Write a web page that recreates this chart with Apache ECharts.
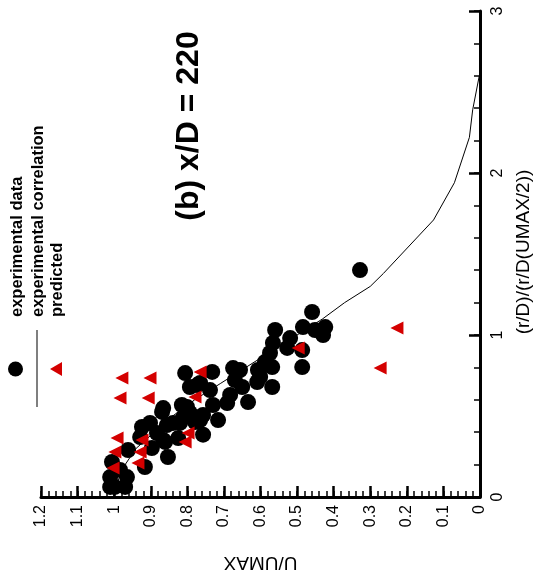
<!DOCTYPE html>
<html>
<head>
<meta charset="utf-8">
<script src="https://cdn.jsdelivr.net/npm/echarts@6/dist/echarts.min.js"></script>
<style>html,body{margin:0;padding:0;background:#fff;}#c{width:535px;height:582px;}</style>
</head>
<body>
<div id="c"></div>
<script>
// experimental data (circles): U/UMAX and (r/D)/(r/D(UMAX/2))
const expU = [1.011,0.998,0.970,1.011,0.965,1.006,0.984,0.962,0.924,0.902,0.869,0.856,0.883,0.861,0.897,0.853,0.916,
  0.815,0.793,0.765,0.757,0.825,0.793,0.765,0.820,0.806,0.773,0.866,0.732,0.738,0.675,0.656,0.670,0.650,0.609,0.601,
  0.588,0.568,0.574,0.566,0.527,0.486,0.568,0.634,0.683,0.691,0.730,0.716,0.757,0.801,0.812,0.779,0.459,0.484,0.451,
  0.423,0.429,0.560,0.519,0.486,0.588,0.607,0.328,0.929,0.839,0.866];
const expR = [0.062,0.062,0.062,0.123,0.123,0.216,0.167,0.290,0.432,0.457,0.525,0.444,0.395,0.340,0.302,0.247,0.185,
  0.568,0.519,0.475,0.385,0.364,0.679,0.704,0.457,0.765,0.691,0.549,0.772,0.660,0.796,0.784,0.722,0.679,0.710,0.741,
  0.815,0.802,0.889,0.951,0.920,0.802,0.679,0.586,0.630,0.580,0.568,0.475,0.506,0.556,0.488,0.463,1.142,1.049,1.031,
  1.049,1.000,1.031,0.981,0.907,0.833,0.784,1.401,0.370,0.457,0.352];
// experimental correlation (line)
const corrU = [1.0,0.99,0.97,0.94,0.89,0.84,0.78,0.71,0.64,0.57,0.50,0.43,0.37,0.30,0.264,0.127,0.07,0.029,0.02,0.002];
const corrR = [0.0,0.1,0.2,0.3,0.4,0.5,0.6,0.7,0.8,0.9,1.0,1.1,1.2,1.3,1.38,1.71,1.94,2.22,2.39,2.60];
// predicted (triangles)
const predU = [0.979,0.902,0.984,0.907,0.765,0.779,0.992,0.924,0.998,0.929,1.003,0.935,0.798,0.806,0.497,0.227,0.273];
const predR = [0.735,0.735,0.611,0.611,0.772,0.617,0.364,0.352,0.278,0.278,0.179,0.210,0.395,0.340,0.920,1.043,0.796];

const titleText = '(b) x/D = 220';
const legendNames = ['experimental data','experimental correlation','predicted'];
const xName = 'U/UMAX';
const yName = '(r/D)/(r/D(UMAX/2))';

const zip = (a, b) => a.map((v, i) => [v, b[i]]);
const FONT = 'Liberation Sans, Arial, sans-serif';
const RED = '#d40000';

const chart = echarts.init(document.getElementById('c'), null, {renderer: 'canvas'});
const majorAxis = () => ({
  type: 'value',
  splitLine: {show: false},
  axisLine: {show: true, onZero: false, lineStyle: {color: '#000', width: 3}},
  axisTick: {show: true, inside: true, length: 11, lineStyle: {color: '#000', width: 2.5}}
});
const minorAxis = () => ({
  type: 'value',
  splitLine: {show: false},
  axisLine: {show: false, onZero: false},
  axisLabel: {show: false},
  axisTick: {show: true, inside: true, length: 6, lineStyle: {color: '#000', width: 1.5}}
});
chart.setOption({
  animation: false,
  backgroundColor: '#fff',
  textStyle: {fontFamily: FONT},
  grid: {left: 41, right: 55, top: 11, bottom: 85, containLabel: false},
  xAxis: [
    Object.assign(majorAxis(), {
      min: 0, max: 1.2, interval: 0.1, inverse: true, position: 'bottom',
      axisLabel: {rotate: 90, fontSize: 16, color: '#000', margin: 8, fontFamily: FONT,
        align: 'right', verticalAlign: 'middle'}
    }),
    Object.assign(minorAxis(), {min: 0, max: 1.2, interval: 0.02, inverse: true, position: 'bottom'})
  ],
  yAxis: [
    Object.assign(majorAxis(), {
      min: 0, max: 3, interval: 1, position: 'right',
      axisLabel: {rotate: 90, fontSize: 16, color: '#000', margin: 10, fontFamily: FONT,
        align: 'center', verticalAlign: 'top'}
    }),
    Object.assign(minorAxis(), {min: 0, max: 3, interval: 0.2, position: 'right'})
  ],
  series: [
    {name: legendNames[0], type: 'scatter', data: zip(expU, expR), symbol: 'circle', symbolSize: 16,
      xAxisIndex: 0, yAxisIndex: 0, itemStyle: {color: '#000', opacity: 1}, z: 2},
    {name: legendNames[1], type: 'line', data: zip(corrU, corrR), showSymbol: false, symbol: 'none',
      xAxisIndex: 0, yAxisIndex: 0, lineStyle: {color: '#000', width: 1}, z: 3},
    {name: legendNames[2], type: 'scatter', data: zip(predU, predR), symbol: 'triangle', symbolRotate: 90,
      xAxisIndex: 0, yAxisIndex: 0, symbolSize: 13, itemStyle: {color: RED, opacity: 1}, z: 4}
  ],
  graphic: [
    {type: 'text', x: 189, y: 126, rotation: Math.PI / 2,
      style: {text: titleText, font: 'bold 32px ' + FONT, fill: '#000', align: 'center', verticalAlign: 'middle'}},
    {type: 'text', x: 260.5, y: 562, rotation: Math.PI,
      style: {text: xName, font: '19px ' + FONT, fill: '#000', align: 'center', verticalAlign: 'middle'}},
    {type: 'text', x: 524, y: 252, rotation: Math.PI / 2,
      style: {text: yName, font: '19px ' + FONT, fill: '#000', align: 'center', verticalAlign: 'middle'}},
    {type: 'circle', shape: {cx: 15.5, cy: 369, r: 7.5}, style: {fill: '#000'}},
    {type: 'line', shape: {x1: 37, y1: 330, x2: 37, y2: 407}, style: {stroke: '#555', lineWidth: 1.5}},
    {type: 'polygon', shape: {points: [[50, 369], [62, 362], [62, 376]]}, style: {fill: RED}},
    {type: 'text', x: 17, y: 317, rotation: Math.PI / 2,
      style: {text: legendNames[0], font: 'bold 16.5px ' + FONT, fill: '#000', align: 'left', verticalAlign: 'middle'}},
    {type: 'text', x: 38, y: 317, rotation: Math.PI / 2,
      style: {text: legendNames[1], font: 'bold 16.5px ' + FONT, fill: '#000', align: 'left', verticalAlign: 'middle'}},
    {type: 'text', x: 57, y: 317, rotation: Math.PI / 2,
      style: {text: legendNames[2], font: 'bold 16.5px ' + FONT, fill: '#000', align: 'left', verticalAlign: 'middle'}}
  ]
});
</script>
</body>
</html>
